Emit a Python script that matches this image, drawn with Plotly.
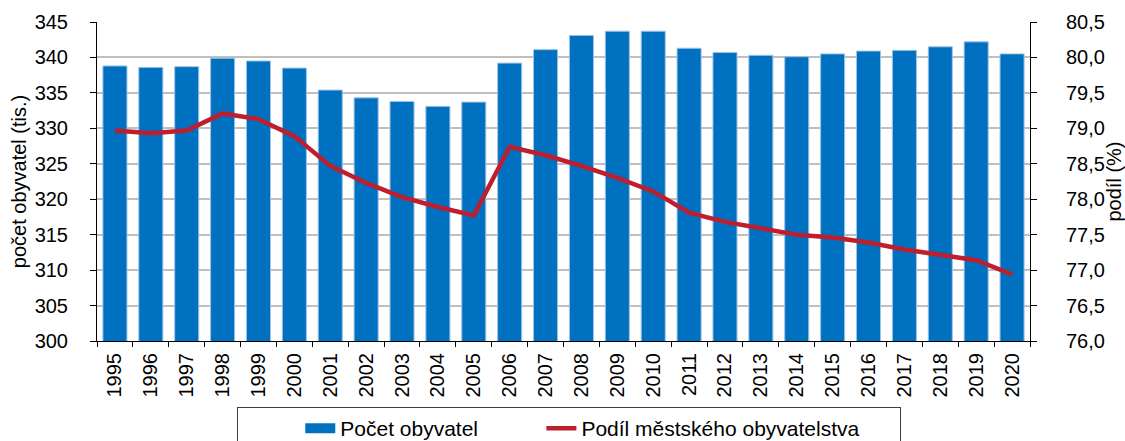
import plotly.graph_objects as go

years = [str(y) for y in range(1995, 2021)]
population = [338.8, 338.6, 338.7, 339.9, 339.5, 338.5, 335.4, 334.3, 333.8, 333.1,
              333.7, 339.2, 341.1, 343.1, 343.7, 343.7, 341.3, 340.7, 340.3, 340.1,
              340.5, 340.9, 341.0, 341.5, 342.2, 340.5]
urban_share = [78.97, 78.93, 78.97, 79.21, 79.13, 78.89, 78.47, 78.23, 78.03, 77.89,
               77.77, 78.74, 78.62, 78.47, 78.30, 78.11, 77.81, 77.68, 77.59, 77.50,
               77.46, 77.39, 77.29, 77.21, 77.14, 76.94]
series_names = ["Počet obyvatel", "Podíl městského obyvatelstva"]

FONT = "Liberation Sans, Arial, sans-serif"
BLUE = "#0070C0"
RED = "#BE1E2D"
NB = "\u00a0"

fig = go.Figure()
fig.add_trace(go.Bar(
    x=years, y=population, name=series_names[0],
    marker=dict(color=BLUE, line=dict(color="#9DC3E6", width=1)),
    yaxis="y", showlegend=False,
))
# legend proxy for the bar series (wide rectangle symbol like the original)
fig.add_trace(go.Scatter(
    x=[None], y=[None], name=series_names[0] + NB * 10, mode="lines",
    line=dict(color=BLUE, width=10), yaxis="y", hoverinfo="skip",
))
fig.add_trace(go.Scatter(
    x=years, y=urban_share, name=series_names[1] + NB * 6,
    mode="lines", line=dict(color=RED, width=4.5),
    yaxis="y2",
))

fig.update_layout(
    width=1125, height=441,
    margin=dict(l=97, r=95, t=22, b=100, autoexpand=False),
    paper_bgcolor="white", plot_bgcolor="white",
    font=dict(family=FONT, size=20, color="black"),
    separators=", ",
    bargap=0.33,
    showlegend=True,
    legend=dict(
        orientation="h", x=0.1498, y=-0.207, xanchor="left", yanchor="top",
        bordercolor="#404040", borderwidth=1, font=dict(size=21),
        itemwidth=30, tracegroupgap=0,
        title=dict(text=NB * 9, side="left", font=dict(size=21)),
    ),
    xaxis=dict(
        type="category", tickangle=-90, tickfont=dict(size=20),
        ticks="outside", tickson="boundaries", ticklen=5, tickcolor="black",
        showline=True, linecolor="black", linewidth=1, showgrid=False,
        automargin=False, ticklabelstandoff=3,
    ),
    yaxis=dict(
        range=[300, 345], dtick=5, tickformat="d",
        ticks="outside", ticklen=6, tickcolor="black",
        showline=True, linecolor="black", linewidth=1,
        showgrid=True, gridcolor="#BFBFBF", gridwidth=2,
        title=dict(text="počet obyvatel (tis.)", font=dict(size=20), standoff=2),
        zeroline=False, automargin=False, ticklabelstandoff=18,
    ),
    yaxis2=dict(
        range=[76.0, 80.5], dtick=0.5, tickformat=".1f",
        overlaying="y", side="right",
        ticks="outside", ticklen=6, tickcolor="black",
        showline=True, linecolor="black", linewidth=1, showgrid=False,
        title=dict(text="podíl (%)", font=dict(size=20), standoff=0),
        zeroline=False, automargin=False, ticklabelstandoff=25,
    ),
)

fig.write_html("out.html", config={"displayModeBar": False},
               post_script="document.body.style.margin='0';")
